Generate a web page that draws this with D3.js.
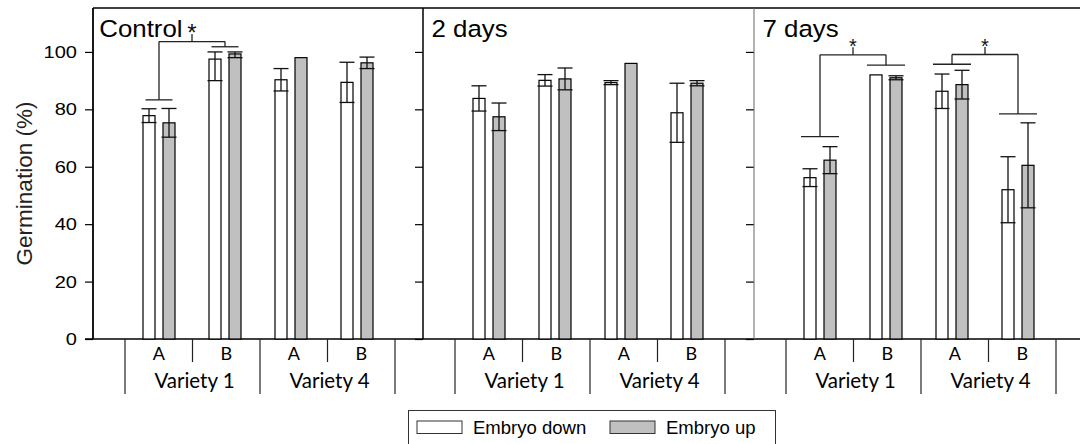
<!DOCTYPE html>
<html>
<head>
<meta charset="utf-8">
<script src="https://cdn.jsdelivr.net/npm/d3@7/dist/d3.min.js"></script>
<style>
  html, body { margin: 0; padding: 0; background: #fff; }
  svg { display: block; }
</style>
</head>
<body>
<svg id="chart" width="1080" height="444"></svg>
<script>
// Germination (%) by variety / subgroup, embryo orientation and storage time
const panelNames = ["Control", "2 days", "7 days"];
const categories = ["1A", "1B", "4A", "4B"];
const subLabels = ["A", "B", "A", "B"];
const varieties = ["Variety 1", "Variety 4"];
const seriesNames = ["Embryo down", "Embryo up"];
const yTicks = [0, 20, 40, 60, 80, 100];

// means and error (± SE) per panel, in category order
const downMean = [[77.8, 97.5, 90.3, 89.4], [83.8, 90.1, 89.3, 78.8], [56.2, 92.0, 86.3, 52.0]];
const downErr  = [[2.4, 7.5, 3.9, 7.0], [4.4, 2.0, 0.7, 10.3], [3.1, 0, 6.0, 11.5]];
const upMean   = [[75.3, 99.3, 98.0, 96.2], [77.4, 90.6, 96.0, 89.1], [62.3, 91.0, 88.6, 60.5]];
const upErr    = [[5.0, 1.3, 0, 2.0], [4.8, 3.8, 0, 0.9], [4.7, 0.7, 5.0, 14.8]];

// significance brackets
const sigPanel = [0, 2, 2];
const sigLeft = ["1A", "1A", "4A"];
const sigRight = ["1B", "1B", "4B"];
const sigLeftLevel = [83.3, 70.5, 95.7];
const sigRightLevel = [101.8, 95.4, 78.4];
const sigTopLevel = [103.6, 99.0, 99.1];

const svg = d3.select("#chart");
const marginL = 93, marginT = 8, panelW = 330, plotH = 331;
const yMax = 115.3;
const y = d3.scaleLinear().domain([0, yMax]).range([marginT + plotH, marginT]);
const x = d3.scalePoint().domain(categories).range([0, panelW]).padding(1);
const cell = d3.scaleBand().domain(categories).range([32, 302]);
const barW = 12, barGap = 8, capW = 15;
const fills = ["#ffffff", "#c0c0c0"];
const baseY = y(0);

function stretchText(g, str, px, py, opts) {
  return g.append("text")
    .attr("transform", `translate(${px},${py}) scale(${opts.sx || 1},1)`)
    .attr("font-family", opts.family || "'Liberation Sans', Arial, sans-serif")
    .attr("font-size", opts.size)
    .attr("text-anchor", opts.anchor || "start")
    .attr("fill", "#000")
    .text(str);
}

// y axis labels and title
const yAxisG = svg.append("g");
yTicks.forEach(v => {
  stretchText(yAxisG, String(v), 77, y(v) + 6, { size: 17, sx: 1.18, anchor: "end" });
});
svg.append("text")
  .attr("transform", `translate(32,183.5) rotate(-90)`)
  .attr("font-family", "'Liberation Sans', Arial, sans-serif")
  .attr("font-size", 22.5)
  .attr("text-anchor", "middle")
  .attr("fill", "#222")
  .text("Germination (%)");

// top frame and x baseline
svg.append("line").attr("x1", marginL).attr("x2", 1080).attr("y1", marginT).attr("y2", marginT)
  .attr("stroke", "#000").attr("stroke-width", 1.6);
svg.append("line").attr("x1", marginL - 8).attr("x2", 1080).attr("y1", baseY).attr("y2", baseY)
  .attr("stroke", "#000").attr("stroke-width", 1.4);

panelNames.forEach((name, p) => {
  const ox = marginL + p * panelW + (p === 2 ? 1 : 0);
  const g = svg.append("g").attr("transform", `translate(${ox},0)`);

  // left axis with ticks
  const axis = d3.axisLeft(y).tickValues(yTicks).tickSize(8).tickFormat("");
  const ag = g.append("g").call(axis);
  ag.select(".domain").remove();
  ag.selectAll(".tick line").attr("stroke", "#000").attr("stroke-width", 1.2);
  g.append("line").attr("x1", 0).attr("x2", 0).attr("y1", marginT).attr("y2", baseY)
    .attr("stroke", p === 2 ? "#666" : "#000").attr("stroke-width", p === 0 ? 1.8 : (p === 2 ? 1 : 1.5));

  // panel title
  stretchText(g, name, p === 0 ? 6.3 : 8.5, 37.3, { size: 23.5, sx: 1.1 });

  // bars
  const vals = [downMean[p], upMean[p]];
  const errs = [downErr[p], upErr[p]];
  categories.forEach((c, i) => {
    [0, 1].forEach(s => {
      const cx = x(c) + (s === 0 ? -(barGap / 2 + barW / 2) : (barGap / 2 + barW / 2));
      const v = vals[s][i];
      g.append("rect")
        .attr("x", cx - barW / 2).attr("width", barW)
        .attr("y", y(v)).attr("height", baseY - y(v))
        .attr("fill", fills[s]).attr("stroke", "#000").attr("stroke-width", 1.2);
      const e = errs[s][i];
      if (e > 0) {
        const hi = Math.min(100, v + e), lo = v - e;
        const eg = g.append("g").attr("stroke", "#111").attr("stroke-width", 1.3);
        eg.append("line").attr("x1", cx).attr("x2", cx).attr("y1", y(hi)).attr("y2", y(lo));
        [hi, lo].forEach(k => eg.append("line")
          .attr("x1", cx - capW / 2).attr("x2", cx + capW / 2)
          .attr("y1", y(k)).attr("y2", y(k)));
      }
    });
  });

  // category table below the axis
  const tg = g.append("g").attr("stroke", "#222").attr("stroke-width", 1.2);
  const seps = categories.map(c => cell(c)).concat([cell(categories[3]) + cell.bandwidth()]);
  seps.forEach((sx, k) => {
    tg.append("line").attr("x1", sx).attr("x2", sx)
      .attr("y1", baseY).attr("y2", k % 2 === 0 ? baseY + 55 : baseY + 23);
  });
  categories.forEach((c, i) => {
    stretchText(g, subLabels[i], cell(c) + cell.bandwidth() / 2, 360,
      { size: 18, sx: 1.0, anchor: "middle", family: "Lato, 'Open Sans', sans-serif" });
  });
  varieties.forEach((vn, k) => {
    const cx = cell(categories[2 * k]) + cell.bandwidth() + 2;
    stretchText(g, vn, cx, 387.5, { size: 20.5, sx: 1.0, anchor: "middle", family: "Lato, 'Open Sans', sans-serif" });
  });
});

// significance brackets
sigPanel.forEach((p, k) => {
  const ox = marginL + p * panelW + (p === 2 ? 1 : 0);
  const half = p === 0 ? 13.5 : 19;
  const g = svg.append("g").attr("transform", `translate(${ox},0)`)
    .attr("stroke", "#222").attr("stroke-width", 1.3).attr("fill", "none");
  const xl = x(sigLeft[k]), xr = x(sigRight[k]);
  const yt = y(sigTopLevel[k]);
  [[xl, sigLeftLevel[k]], [xr, sigRightLevel[k]]].forEach(([cx, lv]) => {
    g.append("line").attr("x1", cx - half).attr("x2", cx + half).attr("y1", y(lv)).attr("y2", y(lv));
    g.append("line").attr("x1", cx).attr("x2", cx).attr("y1", y(lv)).attr("y2", yt);
  });
  g.append("line").attr("x1", xl).attr("x2", xr).attr("y1", yt).attr("y2", yt);
  const mx = (xl + xr) / 2;
  g.append("line").attr("x1", mx).attr("x2", mx).attr("y1", yt).attr("y2", yt - 7.5);
  svg.append("text")
    .attr("x", ox + mx).attr("y", yt - 7.5 + (p === 0 ? 7 : 6))
    .attr("text-anchor", "middle")
    .attr("font-family", "'Liberation Sans', Arial, sans-serif")
    .attr("font-size", p === 0 ? 24 : 20)
    .attr("fill", "#111")
    .text("*");
});

// legend
const lg = svg.append("g");
lg.append("rect").attr("x", 408.5).attr("y", 410.5).attr("width", 367).attr("height", 40)
  .attr("fill", "#fff").attr("stroke", "#333").attr("stroke-width", 1);
const legX = [417, 610];
seriesNames.forEach((sn, s) => {
  lg.append("rect").attr("x", legX[s]).attr("y", 421).attr("width", 45).attr("height", 12.5)
    .attr("fill", fills[s]).attr("stroke", "#333").attr("stroke-width", 1);
  stretchText(lg, sn, legX[s] + 56, 433.5, { size: 17.5, sx: 1.06 });
});
</script>
</body>
</html>
